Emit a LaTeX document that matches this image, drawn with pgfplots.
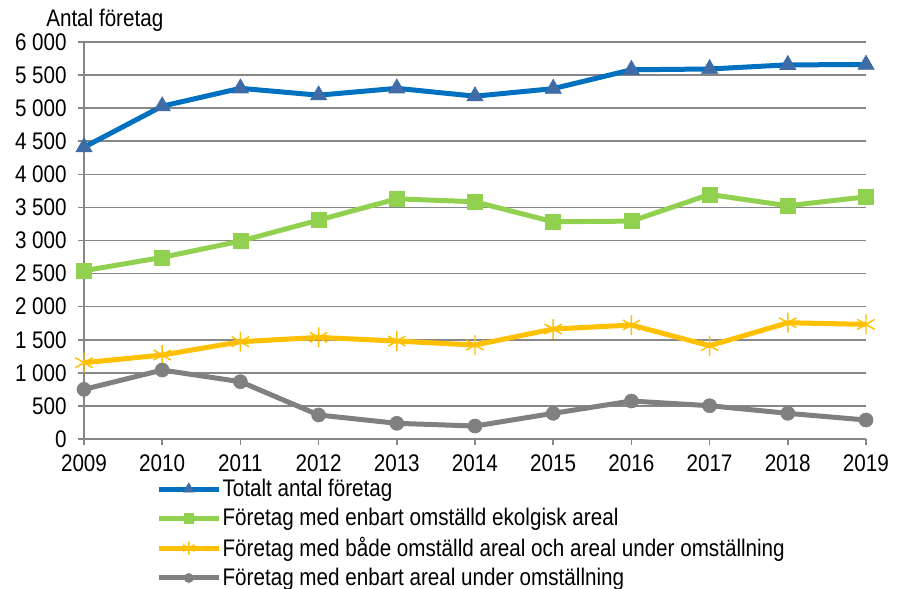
\documentclass[border=0pt]{standalone}
\usepackage{pgfplots}
\pgfplotsset{compat=1.18}
\usepackage{fontspec}
\setmainfont{Liberation Sans}[FakeStretch=0.86]
\definecolor{cblue}{HTML}{0070C0}
\definecolor{cbluemark}{HTML}{3F6BA6}
\definecolor{cgreen}{HTML}{92D050}
\definecolor{cyellow}{HTML}{FFC000}
\definecolor{cgray}{HTML}{808080}
\definecolor{cgrid}{HTML}{878787}
\newcommand{\chartfont}{\fontsize{18bp}{21bp}\selectfont}
\begin{document}
\begin{tikzpicture}
\begin{axis}[
  scale only axis,
  width=586.5bp, height=297.75bp,
  xmin=2009, xmax=2019, ymin=0, ymax=6000,
  xtick={2009,...,2019},
  ytick={0,500,...,6000},
  x tick label style={/pgf/number format/1000 sep={}, yshift=-3.5bp},
  y tick label style={/pgf/number format/1000 sep={\ }, xshift=-5bp},
  /pgf/number format/assume math mode=true,
  font=\chartfont,
  tick label style={font=\chartfont, text=black},
  axis x line*=bottom, axis y line*=left,
  axis line style={-, draw=cgrid, line width=1.2bp},
  ymajorgrids, major grid style={draw=cgrid, line width=1.2bp},
  tick style={draw=cgrid, line width=1.2bp},
  tick align=outside, major tick length=4.5bp,
  clip=false,
  legend cell align=left,
  legend style={draw=none, fill=none, at={(axis description cs:0.087,-0.091)}, anchor=north west,
    font=\chartfont, row sep=5.2bp,
    nodes={inner sep=1bp}},
  legend image code/.code={\draw[mark repeat=2,mark phase=2,#1,/tikz/every mark/.append style={scale=0.65}] plot coordinates {(0bp,0bp) (22.5bp,0bp) (45bp,0bp)};},
  every axis plot/.append style={line width=3.75bp},
]
\addplot[cblue, mark=triangle*, mark size=7bp, mark options={fill=cbluemark, draw=cbluemark, line width=0.5bp}] coordinates {
(2009,4410) (2010,5030) (2011,5300) (2012,5196) (2013,5300) (2014,5181) (2015,5295) (2016,5580) (2017,5592) (2018,5655) (2019,5658)};
\addlegendentry{Totalt antal företag}
\addplot[cgreen, mark=square*, mark size=5.6bp, mark options={fill=cgreen, draw=cgreen, line width=0.5bp}] coordinates {
(2009,2543) (2010,2745) (2011,2991) (2012,3308) (2013,3630) (2014,3585) (2015,3283) (2016,3293) (2017,3696) (2018,3525) (2019,3660)};
\addlegendentry{Företag med enbart omställd ekolgisk areal}
\addplot[cyellow, mark=asterisk, mark size=7.5bp, mark options={draw=cyellow, line width=1.1bp}] coordinates {
(2009,1153) (2010,1269) (2011,1470) (2012,1536) (2013,1480) (2014,1420) (2015,1662) (2016,1722) (2017,1410) (2018,1757) (2019,1732)};
\addlegendentry{Företag med både omställd areal och areal under omställning}
\addplot[cgray, mark=*, mark size=5.25bp, mark options={fill=cgray, draw=cgray, line width=0.5bp}] coordinates {
(2009,750) (2010,1042) (2011,866) (2012,363) (2013,237) (2014,196) (2015,388) (2016,574) (2017,503) (2018,388) (2019,287)};
\addlegendentry{Företag med enbart areal under omställning}
\node[anchor=base west, inner sep=0pt, font=\chartfont] at ([xshift=-28.5bp,yshift=12bp]rel axis cs:0,1) {Antal företag};
\end{axis}
\pgfresetboundingbox
\path (-63bp,-112.5bp) rectangle (609.75bp,329.25bp);
\end{tikzpicture}
\end{document}
